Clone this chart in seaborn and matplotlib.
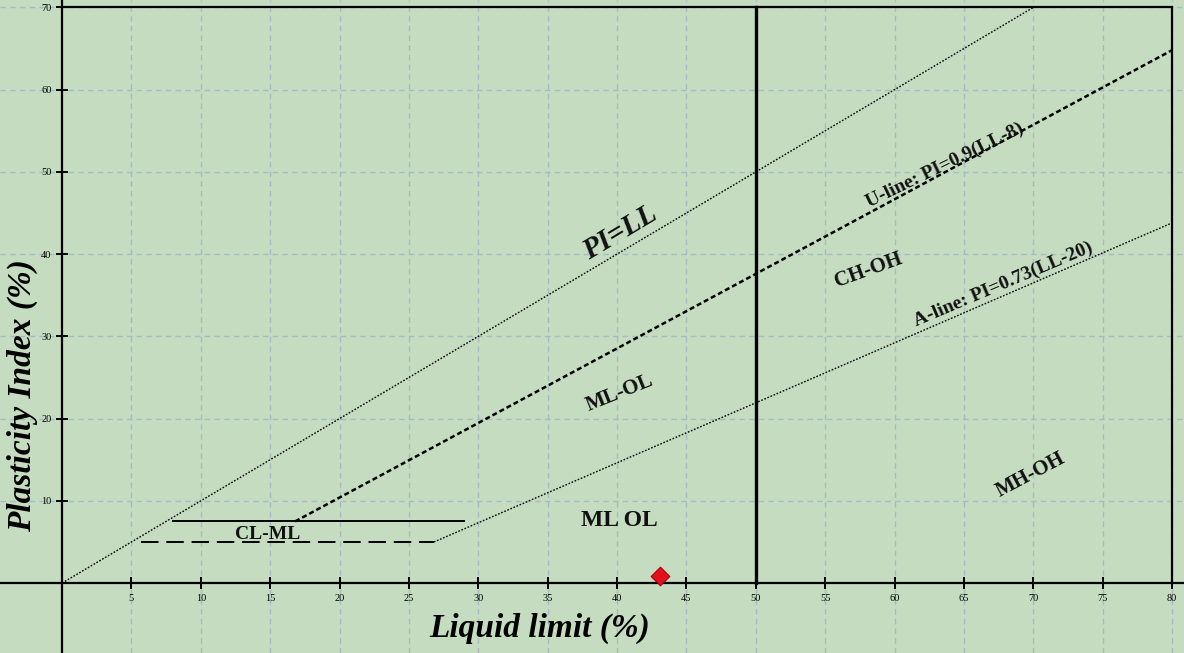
import matplotlib
matplotlib.use("Agg")
import matplotlib.pyplot as plt
import seaborn as sb
import pandas as pd
import numpy as np

#================================================
# DATA (in %)

ll_max = 80
pi_max = 70

# PI = LL line
pi_ll_ll = [0, 70]
pi_ll_pi = [0, 70]

# U-line: PI=0.9(LL-8)
u_line_ll = [16.8, 80]
u_line_pi = [7.5, 64.8]

# A-line: PI=0.73(LL-20)
a_line_ll = [26.8, 80]
a_line_pi = [5.0, 43.8]

# CL-ML band limits
clml_top_ll = [8.0, 29.0]
clml_top_pi = [7.5, 7.5]
clml_bot_ll = [5.7, 26.8]
clml_bot_pi = [5.0, 5.0]

# LL = 50 boundary
ll50_ll = [50, 50]
ll50_pi = [0, 70]

# tested sample
sample_ll = [43.1]
sample_pi = [0.9]

x_ticks = list(range(5, 85, 5))
y_ticks = list(range(10, 80, 10))

# zone labels: text, LL, PI, rotation
zone_labels = ['PI=LL', 'U-line: PI=0.9(LL-8)', 'CH-OH', 'A-line: PI=0.73(LL-20)',
               'ML-OL', 'MH-OH', 'CL-ML', 'ML OL']
zone_ll = [40.2, 63.6, 58.1, 67.8, 40.2, 69.8, 14.8, 40.2]
zone_pi = [42.6, 50.8, 38.1, 36.3, 23.1, 13.1, 5.9, 7.6]
zone_rot = [31, 26, 20, 23, 22, 28, 0, 0]
zone_size = [21, 14, 15, 14, 15, 15, 14, 17]
zone_style = ['italic', 'normal', 'normal', 'normal', 'normal', 'normal', 'normal', 'normal']

#================================================
# PLOTTING

plt.rcParams['font.family'] = ['Liberation Serif', 'DejaVu Serif']

fig = plt.figure(figsize=(11.84, 6.53), dpi=100)
ax = fig.add_axes([0, 0, 1, 1])
ax.set_facecolor('#c5dcc1')
fig.patch.set_facecolor('#c5dcc1')

def line(xs, ys, **kw):
    df = pd.DataFrame({'LL': xs, 'PI': ys})
    sb.lineplot(data=df, x='LL', y='PI', sort=False, estimator=None, color='black', ax=ax, **kw)

#------------------------------------
# chart frame (top and right)
line([0, ll_max], [pi_max, pi_max], linewidth=1.6)
line([ll_max, ll_max], [0, pi_max], linewidth=1.6)

# classification lines
line(pi_ll_ll, pi_ll_pi, linewidth=1.0, linestyle=(0, (1.2, 1.2)))
line(u_line_ll, u_line_pi, linewidth=1.8, linestyle=(0, (2.0, 1.2)))
line(a_line_ll, a_line_pi, linewidth=1.0, linestyle=(0, (1.2, 1.2)))
line(clml_top_ll, clml_top_pi, linewidth=1.4)
line(clml_bot_ll, clml_bot_pi, linewidth=1.4, linestyle=(0, (9, 4)))
line(ll50_ll, ll50_pi, linewidth=2.4)

# sample point
sb.scatterplot(x=sample_ll, y=sample_pi, marker='D', s=90, color='#e3101c',
               edgecolor='#a00010', linewidth=0.8, zorder=5, ax=ax)

#------------------------------------
# labels for the zones
for txt, lx, ly, rot, fs, st in zip(zone_labels, zone_ll, zone_pi, zone_rot, zone_size, zone_style):
    ax.text(lx, ly, txt, rotation=rot, fontsize=fs, fontstyle=st, fontweight='bold',
            ha='center', va='center', rotation_mode='anchor', color='#111111')

#------------------------------------
# axes formatting
ax.set_xlim(-4.47, 80.86)
ax.set_ylim(-8.5, 70.9)
ax.spines['left'].set_position(('data', 0))
ax.spines['bottom'].set_position(('data', 0))
ax.spines['top'].set_visible(False)
ax.spines['right'].set_visible(False)
ax.spines['left'].set_linewidth(1.6)
ax.spines['bottom'].set_linewidth(1.6)

ax.set_xticks(x_ticks)
ax.set_yticks(y_ticks)
ax.set_xticklabels([str(v) for v in x_ticks])
ax.set_yticklabels([str(v) for v in y_ticks])
ax.tick_params(direction='inout', length=9, width=1.4, labelsize=7.5, pad=3, colors='black')

ax.grid(True, color='#a6bbc2', linestyle=(0, (4, 3)), linewidth=1.0)
ax.set_axisbelow(True)

ax.set_xlabel('Liquid limit (%)', fontsize=24, fontstyle='italic', fontweight='bold')
ax.set_ylabel('Plasticity Index (%)', fontsize=24, fontstyle='italic', fontweight='bold')
ax.xaxis.set_label_coords(0.456, 0.038)
ax.yaxis.set_label_coords(0.019, 0.394)
ax.xaxis.label.set_verticalalignment('center')
ax.yaxis.label.set_verticalalignment('center')

fig.savefig('out.png', dpi=100, facecolor=fig.get_facecolor())
